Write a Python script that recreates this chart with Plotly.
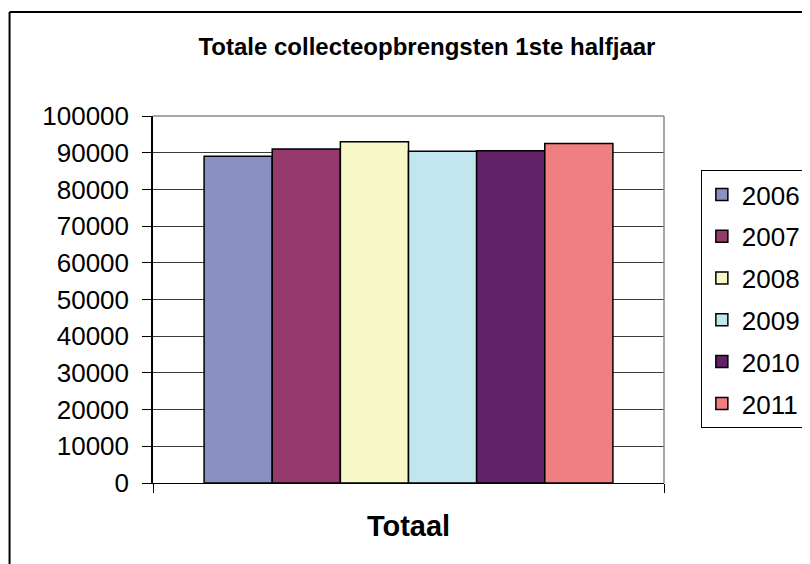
import plotly.graph_objects as go

categories = ["Totaal"]
years = ["2006", "2007", "2008", "2009", "2010", "2011"]
values = [89000, 91000, 93000, 90400, 90500, 92500]
colors = ["#8A8FC4", "#963A6D", "#F8F7C8", "#C2E6EE", "#632168", "#F07F82"]
y_ticks = list(range(0, 100001, 10000))

# page offset of the browser body margin
OFF = 8
W, H = 810, 564
L, R, T, B = 153 - OFF, 810 - (666 - OFF), 116 - OFF, 564 - (483 - OFF)
pw, ph = W - L - R, H - T - B

def px_x(p):
    return (p - OFF - L) / pw

def px_y(p):
    return (H - B - (p - OFF)) / ph

fig = go.Figure()
for i, yr in enumerate(years):
    fig.add_trace(go.Bar(
        x=categories, y=[values[i]], name=yr,
        marker=dict(color=colors[i], line=dict(color="black", width=1.5)),
        legendgroup=yr,
    ))

font_family = "Liberation Sans, Arial, sans-serif"
fig.update_layout(
    width=W, height=H,
    margin=dict(l=L, r=R, t=T, b=B, pad=0),
    paper_bgcolor="white", plot_bgcolor="white",
    barmode="group", bargap=0.2, bargroupgap=0,
    font=dict(family=font_family, color="black"),
    title=dict(text="Totale collecteopbrengsten 1ste halfjaar",
               font=dict(size=24, weight="bold", family=font_family),
               x=px_x(428), xref="paper", xanchor="center",
               y=1 - (47 - OFF) / H, yref="container", yanchor="middle"),
    legend=dict(x=px_x(703), xanchor="left", y=px_y(170), yanchor="top",
                bordercolor="black", borderwidth=1, bgcolor="white",
                font=dict(size=26), tracegroupgap=5, traceorder="grouped",
                itemwidth=30),
    showlegend=True,
    xaxis=dict(type="category", tickson="boundaries", ticks="outside",
               ticklen=9, tickcolor="black", tickwidth=1,
               showline=True, linecolor="black", linewidth=1,
               showgrid=False, tickfont=dict(size=29, weight="bold"),
               ticklabelstandoff=17),
    yaxis=dict(range=[0, 100000], tickvals=y_ticks,
               ticktext=[str(v) for v in y_ticks],
               ticks="outside", ticklen=9, tickcolor="black",
               showline=True, linecolor="black", linewidth=1.5,
               showgrid=True, gridcolor="#3a3a3a", gridwidth=1,
               zeroline=False, tickfont=dict(size=26),
               ticklabelstandoff=8),
    shapes=[
        dict(type="line", xref="paper", yref="paper", x0=0, x1=1, y0=1, y1=1,
             line=dict(color="#8a8a8a", width=1.5)),
        dict(type="line", xref="paper", yref="paper", x0=1, x1=1, y0=0, y1=1,
             line=dict(color="#8a8a8a", width=1.5)),
        dict(type="line", xref="paper", yref="paper", x0=px_x(9), x1=px_x(9),
             y0=px_y(12), y1=px_y(580), line=dict(color="black", width=2)),
        dict(type="line", xref="paper", yref="paper", x0=px_x(9), x1=px_x(830),
             y0=px_y(12), y1=px_y(12), line=dict(color="black", width=2)),
    ],
)

fig.write_html("out.html")
